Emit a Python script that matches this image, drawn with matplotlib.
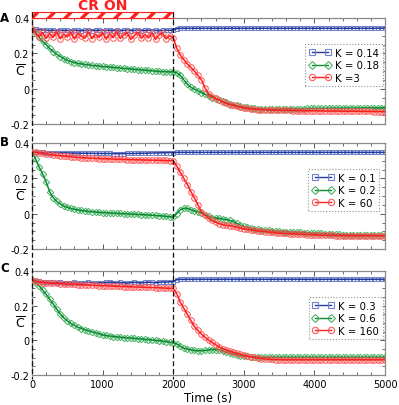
import numpy as np
import matplotlib
matplotlib.use('Agg')
import matplotlib.pyplot as plt
from matplotlib.transforms import blended_transform_factory
from matplotlib.patches import Rectangle
from matplotlib.lines import Line2D
from matplotlib.ticker import MultipleLocator

plt.rcParams['font.family'] = ['DejaVu Sans']
plt.rcParams['hatch.linewidth'] = 2.4
plt.rcParams['mathtext.fontset'] = 'dejavusans'

# ---------------- data ----------------
time_s = list(range(0, 5001, 50))

blue_A = [0.340, 0.336, 0.333, 0.332, 0.331, 0.330, 0.331, 0.329, 0.330, 0.331,
          0.330, 0.329, 0.331, 0.330, 0.328, 0.330, 0.331, 0.329, 0.330, 0.331,
          0.329, 0.330, 0.331, 0.329, 0.330, 0.328, 0.330, 0.331, 0.329, 0.330,
          0.331, 0.329, 0.330, 0.331, 0.329, 0.330, 0.328, 0.330, 0.331, 0.330,
          0.332, 0.340, 0.342, 0.342, 0.342, 0.342, 0.342, 0.342, 0.342, 0.342,
          0.342, 0.342, 0.342, 0.342, 0.342, 0.342, 0.342, 0.342, 0.342, 0.342,
          0.342, 0.342, 0.342, 0.342, 0.342, 0.342, 0.342, 0.342, 0.342, 0.342,
          0.342, 0.342, 0.342, 0.342, 0.342, 0.342, 0.342, 0.342, 0.342, 0.342,
          0.342, 0.342, 0.342, 0.342, 0.342, 0.342, 0.342, 0.342, 0.342, 0.342,
          0.342, 0.342, 0.342, 0.342, 0.342, 0.342, 0.342, 0.342, 0.342, 0.342,
          0.342]
green_A = [0.340, 0.315, 0.290, 0.268, 0.250, 0.228, 0.210, 0.195, 0.182, 0.170,
           0.160, 0.153, 0.148, 0.143, 0.140, 0.137, 0.135, 0.132, 0.130, 0.128,
           0.126, 0.124, 0.122, 0.121, 0.119, 0.117, 0.115, 0.113, 0.112, 0.110,
           0.108, 0.106, 0.105, 0.103, 0.101, 0.099, 0.098, 0.097, 0.096, 0.095,
           0.095, 0.090, 0.075, 0.050, 0.025, 0.008, -0.003, -0.012, -0.022, -0.032,
           -0.042, -0.050, -0.057, -0.064, -0.071, -0.078, -0.085, -0.090, -0.095, -0.099,
           -0.103, -0.106, -0.109, -0.111, -0.113, -0.114, -0.115, -0.115, -0.115, -0.115,
           -0.115, -0.114, -0.114, -0.114, -0.113, -0.113, -0.113, -0.113, -0.112, -0.112,
           -0.112, -0.112, -0.112, -0.111, -0.111, -0.111, -0.111, -0.111, -0.110, -0.110,
           -0.110, -0.110, -0.110, -0.110, -0.109, -0.109, -0.109, -0.109, -0.109, -0.109,
           -0.109]
red_A = [0.340, 0.320, 0.292, 0.318, 0.284, 0.312, 0.290, 0.322, 0.282, 0.310,
         0.292, 0.320, 0.281, 0.312, 0.298, 0.286, 0.321, 0.283, 0.309, 0.290,
         0.318, 0.280, 0.311, 0.288, 0.322, 0.284, 0.306, 0.316, 0.279, 0.301,
         0.319, 0.285, 0.308, 0.287, 0.317, 0.279, 0.305, 0.314, 0.282, 0.300,
         0.288, 0.230, 0.190, 0.165, 0.140, 0.120, 0.100, 0.075, 0.050, 0.005,
         -0.030, -0.045, -0.055, -0.065, -0.075, -0.083, -0.090, -0.095, -0.100, -0.105,
         -0.109, -0.112, -0.115, -0.117, -0.118, -0.119, -0.120, -0.121, -0.121, -0.122,
         -0.122, -0.123, -0.123, -0.123, -0.124, -0.124, -0.124, -0.125, -0.125, -0.125,
         -0.125, -0.126, -0.126, -0.126, -0.127, -0.127, -0.127, -0.127, -0.128, -0.128,
         -0.128, -0.128, -0.128, -0.129, -0.129, -0.129, -0.129, -0.130, -0.130, -0.130,
         -0.130]

blue_B = [0.350, 0.349, 0.348, 0.347, 0.346, 0.346, 0.345, 0.345, 0.344, 0.344,
          0.344, 0.343, 0.343, 0.343, 0.342, 0.342, 0.342, 0.342, 0.341, 0.341,
          0.341, 0.341, 0.341, 0.340, 0.340, 0.340, 0.340, 0.341, 0.341, 0.341,
          0.342, 0.342, 0.342, 0.343, 0.343, 0.344, 0.344, 0.345, 0.345, 0.346,
          0.346, 0.347, 0.347, 0.347, 0.347, 0.347, 0.347, 0.347, 0.347, 0.347,
          0.347, 0.347, 0.347, 0.347, 0.347, 0.347, 0.347, 0.347, 0.347, 0.347,
          0.347, 0.347, 0.347, 0.347, 0.347, 0.347, 0.347, 0.347, 0.347, 0.347,
          0.347, 0.347, 0.347, 0.347, 0.347, 0.347, 0.347, 0.347, 0.347, 0.347,
          0.347, 0.347, 0.347, 0.347, 0.347, 0.347, 0.347, 0.347, 0.347, 0.347,
          0.347, 0.347, 0.347, 0.347, 0.347, 0.347, 0.347, 0.347, 0.347, 0.347,
          0.347]
green_B = [0.350, 0.310, 0.265, 0.225, 0.180, 0.125, 0.090, 0.070, 0.055, 0.043,
           0.036, 0.030, 0.025, 0.021, 0.018, 0.016, 0.013, 0.011, 0.009, 0.008,
           0.006, 0.005, 0.004, 0.003, 0.002, 0.001, 0.000, -0.001, -0.002, -0.003,
           -0.004, -0.005, -0.006, -0.008, -0.009, -0.010, -0.012, -0.013, -0.015, -0.017,
           -0.020, 0.000, 0.022, 0.030, 0.030, 0.022, 0.015, 0.010, 0.005, -0.005,
           -0.015, -0.022, -0.025, -0.026, -0.030, -0.034, -0.038, -0.045, -0.055, -0.065,
           -0.072, -0.077, -0.082, -0.086, -0.089, -0.091, -0.093, -0.095, -0.097, -0.099,
           -0.100, -0.101, -0.102, -0.103, -0.104, -0.105, -0.106, -0.107, -0.108, -0.109,
           -0.110, -0.111, -0.112, -0.113, -0.114, -0.115, -0.116, -0.117, -0.118, -0.118,
           -0.119, -0.119, -0.120, -0.120, -0.120, -0.121, -0.121, -0.121, -0.122, -0.122,
           -0.122]
red_B = [0.350, 0.347, 0.344, 0.341, 0.338, 0.335, 0.332, 0.330, 0.328, 0.326,
         0.324, 0.322, 0.320, 0.318, 0.317, 0.316, 0.315, 0.314, 0.313, 0.312,
         0.311, 0.310, 0.310, 0.309, 0.308, 0.308, 0.307, 0.306, 0.306, 0.305,
         0.305, 0.304, 0.304, 0.303, 0.303, 0.302, 0.302, 0.301, 0.301, 0.300,
         0.300, 0.270, 0.234, 0.200, 0.165, 0.125, 0.090, 0.050, 0.010, -0.010,
         -0.025, -0.038, -0.048, -0.056, -0.062, -0.066, -0.068, -0.072, -0.077, -0.082,
         -0.086, -0.089, -0.092, -0.095, -0.098, -0.100, -0.102, -0.104, -0.106, -0.108,
         -0.110, -0.111, -0.112, -0.113, -0.114, -0.115, -0.116, -0.117, -0.118, -0.119,
         -0.120, -0.121, -0.122, -0.122, -0.123, -0.123, -0.124, -0.124, -0.124, -0.125,
         -0.125, -0.125, -0.125, -0.125, -0.125, -0.125, -0.125, -0.125, -0.125, -0.125,
         -0.125]

blue_C = [0.350, 0.345, 0.341, 0.338, 0.336, 0.335, 0.334, 0.333, 0.334, 0.332,
          0.333, 0.331, 0.334, 0.332, 0.330, 0.333, 0.335, 0.332, 0.330, 0.333,
          0.331, 0.334, 0.336, 0.333, 0.331, 0.334, 0.332, 0.330, 0.333, 0.335,
          0.333, 0.331, 0.334, 0.336, 0.334, 0.332, 0.335, 0.337, 0.336, 0.338,
          0.337, 0.350, 0.352, 0.352, 0.352, 0.352, 0.352, 0.352, 0.352, 0.352,
          0.352, 0.352, 0.352, 0.352, 0.352, 0.352, 0.352, 0.352, 0.352, 0.352,
          0.352, 0.352, 0.352, 0.352, 0.352, 0.352, 0.352, 0.352, 0.352, 0.352,
          0.352, 0.352, 0.352, 0.352, 0.352, 0.352, 0.352, 0.352, 0.352, 0.352,
          0.352, 0.352, 0.352, 0.352, 0.352, 0.352, 0.352, 0.352, 0.352, 0.352,
          0.352, 0.352, 0.352, 0.352, 0.352, 0.352, 0.352, 0.352, 0.352, 0.352,
          0.352]
green_C = [0.345, 0.330, 0.315, 0.290, 0.265, 0.238, 0.210, 0.180, 0.152, 0.130,
           0.112, 0.098, 0.086, 0.076, 0.068, 0.061, 0.055, 0.049, 0.044, 0.038,
           0.031, 0.028, 0.025, 0.022, 0.020, 0.018, 0.016, 0.014, 0.013, 0.012,
           0.010, 0.008, 0.006, 0.004, 0.002, 0.000, -0.002, -0.004, -0.007, -0.010,
           -0.015, -0.020, -0.035, -0.045, -0.050, -0.055, -0.058, -0.060, -0.060, -0.058,
           -0.055, -0.053, -0.053, -0.056, -0.062, -0.068, -0.074, -0.079, -0.084, -0.088,
           -0.091, -0.093, -0.094, -0.095, -0.096, -0.097, -0.098, -0.098, -0.098, -0.098,
           -0.098, -0.098, -0.098, -0.098, -0.098, -0.098, -0.098, -0.098, -0.098, -0.098,
           -0.098, -0.098, -0.098, -0.098, -0.098, -0.098, -0.098, -0.098, -0.098, -0.098,
           -0.098, -0.098, -0.098, -0.098, -0.098, -0.098, -0.098, -0.098, -0.098, -0.098,
           -0.098]
red_C = [0.350, 0.340, 0.336, 0.333, 0.331, 0.330, 0.329, 0.328, 0.327, 0.326,
         0.325, 0.324, 0.323, 0.322, 0.321, 0.320, 0.319, 0.318, 0.317, 0.316,
         0.315, 0.314, 0.313, 0.312, 0.311, 0.311, 0.310, 0.309, 0.309, 0.308,
         0.307, 0.307, 0.306, 0.305, 0.305, 0.304, 0.303, 0.302, 0.301, 0.300,
         0.300, 0.270, 0.220, 0.185, 0.150, 0.115, 0.080, 0.058, 0.035, 0.018,
         0.002, -0.012, -0.025, -0.038, -0.048, -0.056, -0.063, -0.069, -0.075, -0.081,
         -0.086, -0.091, -0.095, -0.099, -0.102, -0.105, -0.107, -0.109, -0.110, -0.111,
         -0.111, -0.112, -0.112, -0.112, -0.112, -0.112, -0.112, -0.112, -0.112, -0.112,
         -0.112, -0.112, -0.112, -0.112, -0.112, -0.112, -0.112, -0.112, -0.112, -0.112,
         -0.112, -0.112, -0.112, -0.112, -0.112, -0.112, -0.112, -0.112, -0.112, -0.112,
         -0.112]

panel_letters = ['A', 'B', 'C']
legend_labels = [['K = 0.14', 'K = 0.18', 'K =3'],
                 ['K = 0.1', 'K = 0.2', 'K = 60'],
                 ['K = 0.3', 'K = 0.6', 'K = 160']]
panel_data = [[blue_A, green_A, red_A], [blue_B, green_B, red_B], [blue_C, green_C, red_C]]
cr_on_window = [0, 2000]
y_ticks = [-0.2, 0, 0.2, 0.4]
y_ticklabels = ['-0.2', '0', '0.2', '0.4']

# ---------------- styles ----------------
line_colors = ['#243a9c', '#0b8a33', '#ff1e1e']
marker_colors = ['#7285cc', '#4fb56a', '#ff5a5a']
markers = ['s', 'D', 'o']
msizes = [3.5, 3.3, 4.0]

W, H = 399, 406
fig = plt.figure(figsize=(W / 100, H / 100), dpi=100)
panel_px = [(19, 125), (144, 250), (272, 376)]
legend_anchor = [(0.994, 0.755), (0.983, 0.755), (0.994, 0.75)]

axes = []
for i, (top, bot) in enumerate(panel_px):
    ax = fig.add_axes([32 / W, 1 - bot / H, 353 / W, (bot - top) / H])
    axes.append(ax)
    ax.set_xlim(0, 5000)
    ax.set_ylim(-0.2, 0.4)
    ax.set_yticks(y_ticks)
    ax.set_yticklabels(y_ticklabels)
    ax.yaxis.set_minor_locator(MultipleLocator(0.05))
    ax.xaxis.set_major_locator(MultipleLocator(1000))
    ax.xaxis.set_minor_locator(MultipleLocator(200))
    ax.tick_params(which='both', direction='in', top=True, right=True,
                   color='#555555', labelsize=7, pad=2)
    ax.tick_params(which='major', length=3.5, width=0.7)
    ax.tick_params(which='minor', length=2, width=0.6)
    ax.tick_params(axis='x', pad=3)
    for s in ax.spines.values():
        s.set_color('#8a8a8a')
        s.set_linewidth(0.9)
    if i < 2:
        ax.tick_params(labelbottom=False)

    handles = []
    for j, vals in enumerate(panel_data[i]):
        ax.plot(time_s, vals, ls='none', marker=markers[j], ms=msizes[j], mfc='none',
                mec=marker_colors[j], mew=0.75, zorder=2 + j)
        ax.plot(time_s, vals, color=line_colors[j], lw=1.1, zorder=2.5 + j)
        handles.append(Line2D([], [], color=line_colors[j], lw=1.0, marker=markers[j],
                              ms=msizes[j] + 0.5, mfc='none', mec=marker_colors[j], mew=0.8))
    leg = ax.legend(handles, legend_labels[i], loc='upper right',
                    bbox_to_anchor=legend_anchor[i], fontsize=7.3, frameon=True,
                    fancybox=False, edgecolor='#777777', handlelength=2.2,
                    handletextpad=0.4, labelspacing=0.25, borderpad=0.35,
                    borderaxespad=0, numpoints=2)
    leg.get_frame().set_linestyle(':')
    leg.get_frame().set_linewidth(0.8)
    leg.set_zorder(10)

    top_off = {0: 1 / 106, 1: 1 / 106, 2: 3 / 104}[i]
    ax.text(-0.077, 1 + top_off, panel_letters[i], transform=ax.transAxes,
            ha='center', va='center', fontweight='bold', fontsize=8.5)
    ax.text(-0.034, 0.5, r'$\overline{\mathrm{C}}$', transform=ax.transAxes,
            ha='center', va='center', fontsize=9)

axes[2].set_xlabel('Time (s)', fontsize=8.5, labelpad=1.5)

# vertical dashed lines across panels
trans = blended_transform_factory(axes[2].transData, fig.transFigure)
for t in cr_on_window:
    fig.add_artist(Line2D([t, t], [1 - 13 / H, 1 - 380 / H], transform=trans,
                          color='#111111', lw=0.9, dashes=(4, 2.2), zorder=20))

# CR ON hatched bar
transA = blended_transform_factory(axes[0].transData, fig.transFigure)
bar = Rectangle((cr_on_window[0], 1 - 19 / H), cr_on_window[1] - cr_on_window[0], 6 / H,
                transform=transA, facecolor='white', edgecolor='#ff1e1e',
                hatch='//', lw=0.8, clip_on=False)
fig.add_artist(bar)
fig.text(sum(cr_on_window) / 2, 1 - 6.5 / H, 'CR ON', transform=transA, ha='center',
         va='center', color='#ff1e1e', fontweight='bold', fontsize=10)

fig.savefig('out.png', dpi=100)
